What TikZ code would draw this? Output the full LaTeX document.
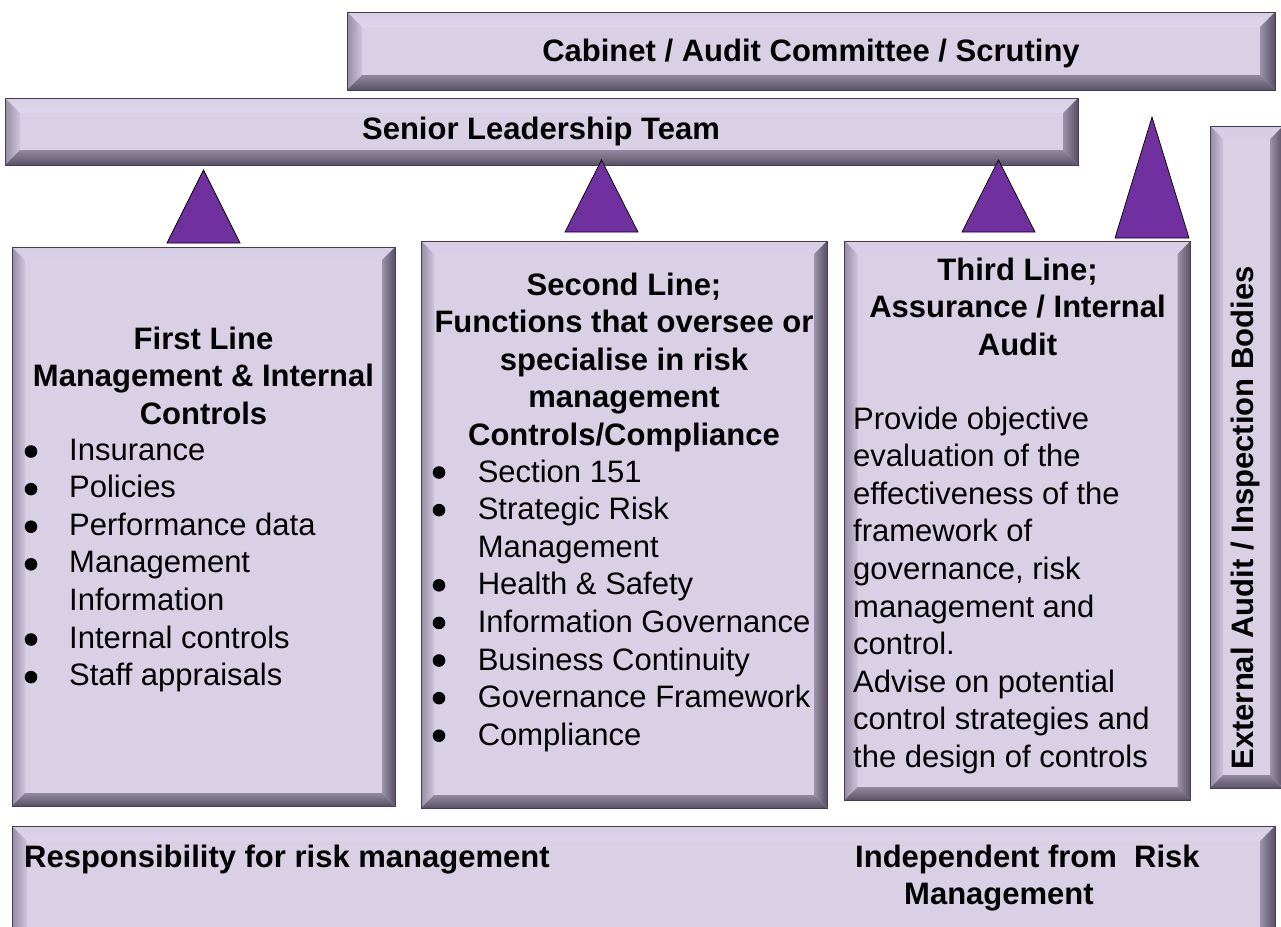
\documentclass[tikz,border=0pt]{standalone}
\usepackage{fontspec}
\setmainfont{Liberation Sans}
\definecolor{bvface}{RGB}{217,208,230}
\definecolor{bvedge}{RGB}{70,60,85}
\definecolor{bvtopo}{RGB}{215,206,230}
\definecolor{bvtopi}{RGB}{248,246,252}
\definecolor{bvlefto}{RGB}{150,140,165}
\definecolor{bvlefti}{RGB}{205,197,220}
\definecolor{bvrighti}{RGB}{155,145,170}
\definecolor{bvrighto}{RGB}{90,80,100}
\definecolor{bvboti}{RGB}{145,137,160}
\definecolor{bvboto}{RGB}{90,83,100}
\definecolor{tri}{RGB}{112,48,160}
\newcommand\bevelpic[1]{%
  \path[top color=bvtopo,bottom color=bvtopi] (path picture bounding box.north west) -- (path picture bounding box.north east) -- ([shift={(-#1pt,-#1pt)}]path picture bounding box.north east) -- ([shift={(#1pt,-#1pt)}]path picture bounding box.north west) -- cycle;
  \path[left color=bvlefto,right color=bvlefti] (path picture bounding box.north west) -- ([shift={(#1pt,-#1pt)}]path picture bounding box.north west) -- ([shift={(#1pt,#1pt)}]path picture bounding box.south west) -- (path picture bounding box.south west) -- cycle;
  \path[left color=bvrighti,right color=bvrighto] (path picture bounding box.north east) -- ([shift={(-#1pt,-#1pt)}]path picture bounding box.north east) -- ([shift={(-#1pt,#1pt)}]path picture bounding box.south east) -- (path picture bounding box.south east) -- cycle;
  \path[top color=bvboti,bottom color=bvboto] (path picture bounding box.south west) -- ([shift={(#1pt,#1pt)}]path picture bounding box.south west) -- ([shift={(-#1pt,#1pt)}]path picture bounding box.south east) -- (path picture bounding box.south east) -- cycle;
}
\tikzset{
  bevel/.style={draw=bvedge,line width=0.9pt,fill=bvface,rectangle,inner sep=0pt,path picture={\bevelpic{#1}}},
  txt/.style={inner sep=0pt,font=\fontsize{31}{37.6}\selectfont},
  btxt/.style={inner sep=0pt,font=\fontsize{31}{37.6}\selectfont\bfseries},
  arrowtri/.style={fill=tri,draw=black,line width=0.7pt,line join=miter},
  bulletdot/.style={fill=black},
}
\begin{document}
\begin{tikzpicture}[x=1pt,y=-1pt]
\useasboundingbox (0,0) rectangle (1281,926);
\clip (0,0) rectangle (1281,926);
\fill[white] (0,0) rectangle (1281,926);
% bars
\node[bevel=15,minimum width=928pt,minimum height=78pt] (cab) at (811,51) {};
\node[btxt] (cabt) at (811,53) {Cabinet / Audit Committee / Scrutiny};
\node[bevel=15,minimum width=1073pt,minimum height=67pt] (slt) at (541.5,131.5) {};
\node[btxt] (sltt) at (541,131) {Senior Leadership Team};
% external audit
\node[bevel=13,minimum width=73pt,minimum height=662pt] (ext) at (1246.5,457) {};
\node[btxt,rotate=90,anchor=base] (extt) at (1253,518) {External Audit / Inspection Bodies};
% triangles
\draw[arrowtri] (167,243) -- (203.5,170) -- (240,243) -- cycle;
\draw[arrowtri] (565,232) -- (601.5,160) -- (638,232) -- cycle;
\draw[arrowtri] (962,232) -- (998.5,160) -- (1035,232) -- cycle;
\draw[arrowtri] (1115,238) -- (1152,117) -- (1189,238) -- cycle;
% first line
\node[bevel=13,minimum width=383pt,minimum height=559pt] (first) at (203.5,526.5) {};
\node[btxt,align=center,anchor=north] (firsth) at (203.5,326.5) {First Line\\Management \& Internal\\Controls};
\node[txt,align=left,anchor=north west] (firstl) at (69,438.5) {Insurance\\Policies\\Performance data\\Management\\Information\\Internal controls\\Staff appraisals};
\foreach \k in {0,1,2,3,5,6}
  \fill[bulletdot] (31,451.5+37.6*\k) circle (6.3pt);
% second line
\node[bevel=13,minimum width=406pt,minimum height=567pt] (second) at (624,524.5) {};
\node[btxt,align=center,anchor=north] (secondh) at (624,272.5) {Second Line;\\Functions that oversee or\\specialise in risk\\management\\Controls/Compliance};
\node[txt,align=left,anchor=north west] (secondl) at (477.6,459.5) {Section 151\\Strategic Risk\\Management\\Health \& Safety\\Information Governance\\Business Continuity\\Governance Framework\\Compliance};
\foreach \k in {0,1,3,4,5,6,7}
  \fill[bulletdot] (439,472.5+37.6*\k) circle (6.3pt);
% third line
\node[bevel=13,minimum width=346pt,minimum height=559pt] (third) at (1017.5,520.5) {};
\node[btxt,align=center,anchor=north] (thirdh) at (1017.5,257.5) {Third Line;\\Assurance / Internal\\Audit};
\node[txt,align=left,anchor=north west] (thirdb) at (853,406.5) {Provide objective\\evaluation of the\\effectiveness of the\\framework of\\governance, risk\\management and\\control.\\Advise on potential\\control strategies and\\the design of controls};
% bottom
\node[bevel=15,minimum width=1263pt,minimum height=124pt] (bottom) at (643.5,888) {};
\node[btxt,anchor=base west] (respt) at (24,867) {Responsibility for risk management};
\node[btxt,anchor=base west] (indt) at (855,867) {Independent from\ \ Risk};
\node[btxt,anchor=base west] (indt2) at (904,904) {Management};
\end{tikzpicture}
\end{document}
